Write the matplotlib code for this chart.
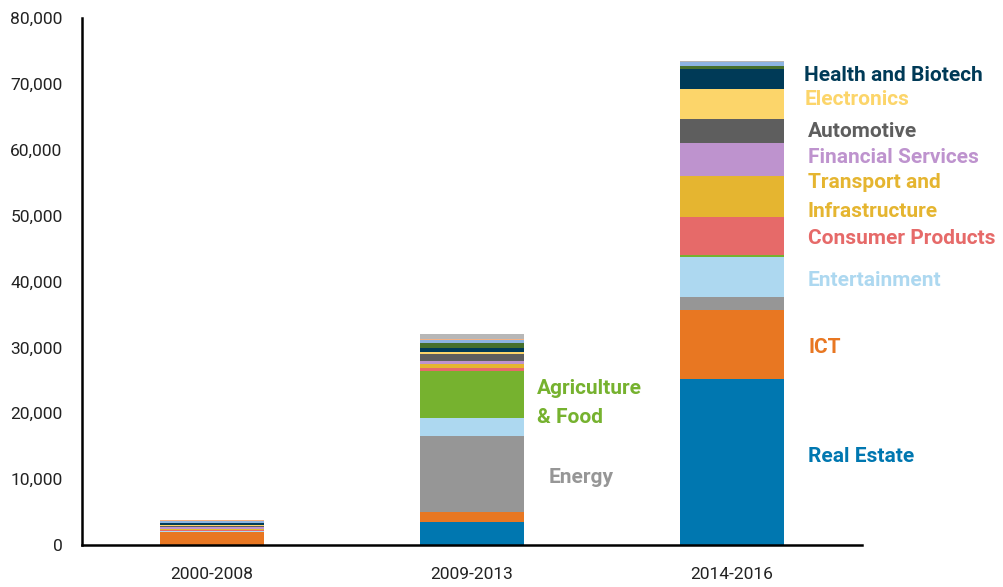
import matplotlib.pyplot as plt
from matplotlib import font_manager
import numpy as np

# periods on the x axis
periods = ["2000-2008", "2009-2013", "2014-2016"]

# stacked segments, bottom to top
real_estate   = [0,    3440,  25140]
ict           = [1970, 1620,  10520]
energy        = [0,    11480, 1930]
entertainment = [100,  2680,  6160]
agri_food     = [50,   7180,  250]
consumer      = [200,  510,   5820]
transport     = [100,  510,   6130]
financial     = [250,  550,   5100]
automotive    = [250,  1060,  3640]
electronics   = [50,   210,   4610]
health        = [300,  610,   3030]
other_green   = [100,  850,   360]
other_blue    = [250,  410,   650]
other_peach   = [100,  150,   0]
other_gray    = [50,   760,   150]

segments = [
    (real_estate, "#0077B0"),
    (ict, "#E87722"),
    (energy, "#969696"),
    (entertainment, "#ADD8F0"),
    (agri_food, "#76B22F"),
    (consumer, "#E66A69"),
    (transport, "#E5B530"),
    (financial, "#BE93CE"),
    (automotive, "#5E5E5E"),
    (electronics, "#FCD56A"),
    (health, "#003A57"),
    (other_green, "#46702D"),
    (other_blue, "#8DB4E2"),
    (other_peach, "#F4B183"),
    (other_gray, "#B7B7B7"),
]

# label text, colour, x (data), y (data)
labels = [
    ("Health and Biotech", "#003A57", 2.278, 71300),
    ("Electronics", "#FCD56A", 2.278, 67700),
    ("Automotive", "#5E5E5E", 2.29, 62800),
    ("Financial Services", "#BE93CE", 2.29, 58900),
    ("Transport and", "#E5B530", 2.29, 55100),
    ("Infrastructure", "#E5B530", 2.29, 50700),
    ("Consumer Products", "#E66A69", 2.29, 46600),
    ("Entertainment", "#ADD8F0", 2.29, 40100),
    ("ICT", "#E87722", 2.293, 30050),
    ("Real Estate", "#0077B0", 2.293, 13500),
    ("Agriculture", "#76B22F", 1.25, 23700),
    ("& Food", "#76B22F", 1.25, 19400),
    ("Energy", "#969696", 1.293, 10200),
]

installed = {f.name for f in font_manager.fontManager.ttflist}
fams = [f for f in ["Liberation Sans Narrow", "Roboto", "DejaVu Sans"] if f in installed]
plt.rcParams["font.family"] = fams

fig = plt.figure(figsize=(10.04, 5.87), dpi=100)
ax = fig.add_axes([0.0817, 0.0716, 0.777, 0.8977])

x = np.arange(len(periods))
bottom = np.zeros(len(periods))
for vals, col in segments:
    vals = np.array(vals, dtype=float)
    ax.bar(x, vals, width=0.4, bottom=bottom, color=col, linewidth=0)
    bottom += vals

for txt, col, lx, ly in labels:
    ax.text(lx, ly, txt, color=col, fontsize=15, fontweight="bold", ha="left", va="center")

ax.set_xlim(-0.5, 2.5)
ax.set_ylim(0, 80000)
ax.set_yticks(np.arange(0, 80001, 10000))
ax.set_yticklabels([f"{int(v):,}" for v in np.arange(0, 80001, 10000)])
ax.set_xticks(x)
ax.set_xticklabels(periods)
ax.tick_params(axis="both", length=0, labelsize=12.5, colors="#222222")
ax.tick_params(axis="y", pad=14)
ax.tick_params(axis="x", pad=16)

for s in ["top", "right"]:
    ax.spines[s].set_visible(False)
for s in ["left", "bottom"]:
    ax.spines[s].set_linewidth(1.8)
    ax.spines[s].set_color("black")

fig.savefig("out.png", dpi=100)
